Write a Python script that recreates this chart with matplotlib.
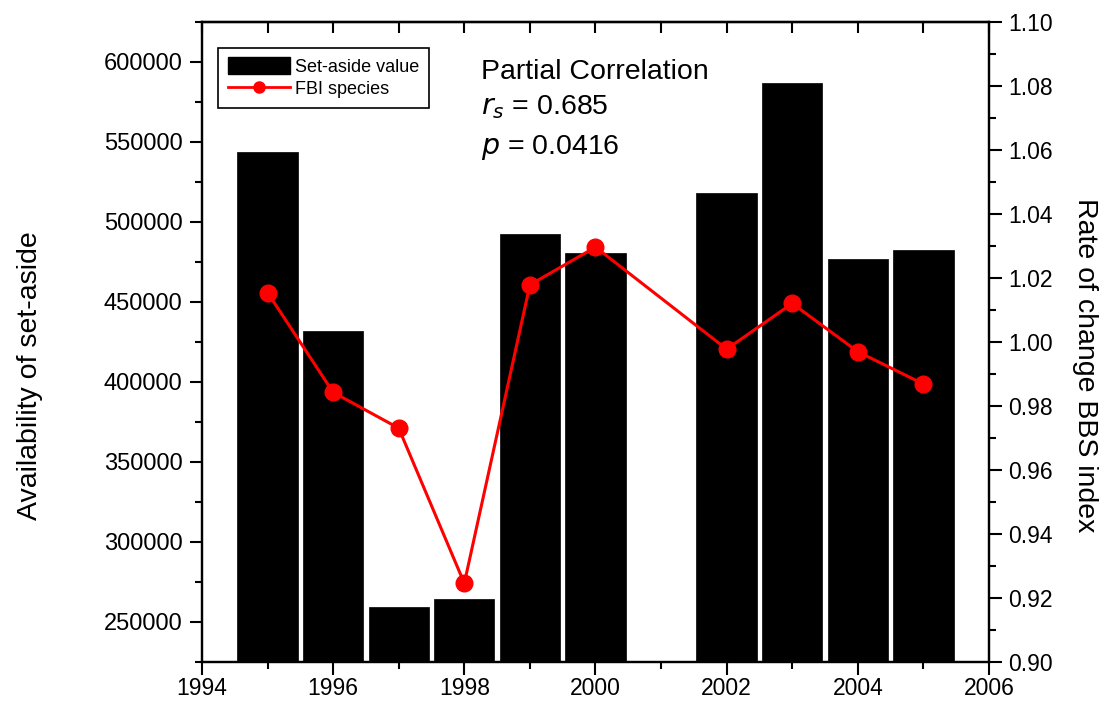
import matplotlib
matplotlib.use('Agg')
import matplotlib.pyplot as plt
from matplotlib.ticker import MultipleLocator, FormatStrFormatter
from matplotlib.lines import Line2D
from matplotlib.patches import Patch

plt.rcParams['font.family'] = ['Liberation Sans', 'DejaVu Sans']

# dati
anni_barre = [1995, 1996, 1997, 1998, 1999, 2000, 2002, 2003, 2004, 2005]
set_aside = [543900, 431600, 259000, 264200, 492700, 480700, 518200, 587100, 476500, 482300]

anni_fbi = [1995, 1996, 1997, 1998, 1999, 2000, 2002, 2003, 2004, 2005]
fbi = [1.0154, 0.9842, 0.9730, 0.9245, 1.0178, 1.0296, 0.9977, 1.0120, 0.9969, 0.9868]

fig = plt.figure(figsize=(11, 7.03), dpi=100)
ax = fig.add_axes([0.1836, 0.0588, 0.7155, 0.91])
ax2 = ax.twinx()

ax.bar(anni_barre, set_aside, width=0.92, color='black', edgecolor='black', linewidth=0.5)
ax2.plot(anni_fbi, fbi, color='#ff0000', linewidth=2.2, marker='o', markersize=12)

ax.set_xlim(1994, 2006)
ax.set_ylim(225000, 625000)
ax2.set_ylim(0.90, 1.10)

ax.xaxis.set_major_locator(MultipleLocator(2))
ax.xaxis.set_minor_locator(MultipleLocator(1))
ax.yaxis.set_major_locator(MultipleLocator(50000))
ax.yaxis.set_minor_locator(MultipleLocator(25000))
ax2.yaxis.set_major_locator(MultipleLocator(0.02))
ax2.yaxis.set_minor_locator(MultipleLocator(0.01))
ax2.yaxis.set_major_formatter(FormatStrFormatter('%.2f'))

for a in (ax, ax2):
    for s in a.spines.values():
        s.set_linewidth(1.6)

ax.tick_params(axis='both', which='major', direction='out', length=9, width=1.5, pad=5)
ax.tick_params(axis='both', which='minor', direction='out', length=5, width=1.5)
ax.tick_params(axis='y', labelsize=17)
ax.tick_params(axis='x', labelsize=16.5, pad=2)
ax.tick_params(axis='x', which='both', top=False)
ax2.tick_params(axis='y', which='major', direction='out', length=9, width=1.5, labelsize=16.5, pad=5)
ax2.tick_params(axis='y', which='minor', direction='out', length=5, width=1.5)

# tacche in alto rivolte verso l'interno
sec = ax.secondary_xaxis('top')
sec.xaxis.set_major_locator(MultipleLocator(2))
sec.xaxis.set_minor_locator(MultipleLocator(1))
sec.tick_params(which='both', direction='in', length=8, width=1.5, labeltop=False)
sec.spines['top'].set_linewidth(1.6)

ax.set_ylabel('Availability of set-aside', fontsize=20.5)
ax.yaxis.set_label_coords(-0.2186, 0.447)
ax.yaxis.label.set_verticalalignment('center')
ax2.set_ylabel('Rate of change BBS index', fontsize=20.5, rotation=270)
ax2.yaxis.set_label_coords(1.122, 0.464)
ax2.yaxis.label.set_verticalalignment('center')

handles = [Patch(facecolor='black', edgecolor='black'),
           Line2D([], [], color='#ff0000', linewidth=2, marker='o', markersize=8)]
leg = ax.legend(handles, ['Set-aside value', 'FBI species'], loc='upper left',
                bbox_to_anchor=(0.021, 0.96), fontsize=13, fancybox=False,
                edgecolor='black', framealpha=1, handlelength=3.4, handleheight=1.0,
                borderpad=0.55, labelspacing=0.25, handletextpad=0.3, borderaxespad=0)
leg.get_frame().set_linewidth(1.2)

ax.text(0.355, 0.922, 'Partial Correlation', transform=ax.transAxes, fontsize=20.5, va='center')
ax.text(0.355, 0.867, r'$r_s$ = 0.685', transform=ax.transAxes, fontsize=20.5, va='center')
ax.text(0.355, 0.804, r'$p$ = 0.0416', transform=ax.transAxes, fontsize=20.5, va='center')

fig.savefig('out.png', dpi=100)
